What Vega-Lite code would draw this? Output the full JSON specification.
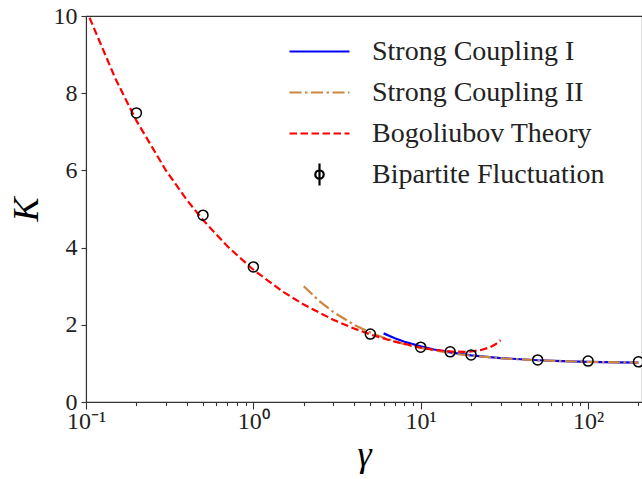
{
  "$schema": "https://vega.github.io/schema/vega-lite/v6.json",
  "autosize": "none",
  "width": 556,
  "height": 386,
  "padding": {"left": 86, "top": 16, "right": 0, "bottom": 77},
  "background": "white",
  "config": {
    "font": "Liberation Serif",
    "view": {"stroke": "#333", "strokeWidth": 1.1},
    "axis": {"grid": false, "domainColor": "#333", "tickColor": "#333", "labelColor": "#222", "titleColor": "#000", "labelFont": "Liberation Serif", "titleFont": "Liberation Serif", "domainWidth": 1.1, "tickWidth": 1.1}
  },
  "data": {"values": [
    {"gamma": 6, "K": 1.7778, "series": "Strong Coupling I"},
    {"gamma": 7, "K": 1.6531, "series": "Strong Coupling I"},
    {"gamma": 8, "K": 1.5625, "series": "Strong Coupling I"},
    {"gamma": 10, "K": 1.44, "series": "Strong Coupling I"},
    {"gamma": 12, "K": 1.3611, "series": "Strong Coupling I"},
    {"gamma": 15, "K": 1.2844, "series": "Strong Coupling I"},
    {"gamma": 20, "K": 1.21, "series": "Strong Coupling I"},
    {"gamma": 30, "K": 1.1378, "series": "Strong Coupling I"},
    {"gamma": 50, "K": 1.0816, "series": "Strong Coupling I"},
    {"gamma": 70, "K": 1.058, "series": "Strong Coupling I"},
    {"gamma": 100, "K": 1.0404, "series": "Strong Coupling I"},
    {"gamma": 150, "K": 1.0268, "series": "Strong Coupling I"},
    {"gamma": 200, "K": 1.0201, "series": "Strong Coupling I"},
    {"gamma": 2, "K": 3.0, "series": "Strong Coupling II"},
    {"gamma": 2.5, "K": 2.6, "series": "Strong Coupling II"},
    {"gamma": 3, "K": 2.3333, "series": "Strong Coupling II"},
    {"gamma": 4, "K": 2.0, "series": "Strong Coupling II"},
    {"gamma": 5, "K": 1.8, "series": "Strong Coupling II"},
    {"gamma": 6, "K": 1.6667, "series": "Strong Coupling II"},
    {"gamma": 8, "K": 1.5, "series": "Strong Coupling II"},
    {"gamma": 10, "K": 1.4, "series": "Strong Coupling II"},
    {"gamma": 15, "K": 1.2667, "series": "Strong Coupling II"},
    {"gamma": 20, "K": 1.2, "series": "Strong Coupling II"},
    {"gamma": 30, "K": 1.1333, "series": "Strong Coupling II"},
    {"gamma": 50, "K": 1.08, "series": "Strong Coupling II"},
    {"gamma": 100, "K": 1.04, "series": "Strong Coupling II"},
    {"gamma": 200, "K": 1.02, "series": "Strong Coupling II"},
    {"gamma": 0.105, "K": 9.955, "series": "Bogoliubov Theory"},
    {"gamma": 0.15, "K": 8.374, "series": "Bogoliubov Theory"},
    {"gamma": 0.2, "K": 7.289, "series": "Bogoliubov Theory"},
    {"gamma": 0.3, "K": 6.003, "series": "Bogoliubov Theory"},
    {"gamma": 0.4, "K": 5.238, "series": "Bogoliubov Theory"},
    {"gamma": 0.5, "K": 4.716, "series": "Bogoliubov Theory"},
    {"gamma": 0.7, "K": 4.033, "series": "Bogoliubov Theory"},
    {"gamma": 1, "K": 3.426, "series": "Bogoliubov Theory"},
    {"gamma": 1.5, "K": 2.859, "series": "Bogoliubov Theory"},
    {"gamma": 2, "K": 2.5235, "series": "Bogoliubov Theory"},
    {"gamma": 3, "K": 2.1312, "series": "Bogoliubov Theory"},
    {"gamma": 4, "K": 1.9025, "series": "Bogoliubov Theory"},
    {"gamma": 5, "K": 1.7506, "series": "Bogoliubov Theory"},
    {"gamma": 7, "K": 1.5606, "series": "Bogoliubov Theory"},
    {"gamma": 10, "K": 1.4096, "series": "Bogoliubov Theory"},
    {"gamma": 12, "K": 1.3539, "series": "Bogoliubov Theory"},
    {"gamma": 15, "K": 1.3097, "series": "Bogoliubov Theory"},
    {"gamma": 18, "K": 1.2994, "series": "Bogoliubov Theory"},
    {"gamma": 20, "K": 1.3085, "series": "Bogoliubov Theory"},
    {"gamma": 23, "K": 1.3464, "series": "Bogoliubov Theory"},
    {"gamma": 26, "K": 1.4192, "series": "Bogoliubov Theory"},
    {"gamma": 28, "K": 1.4944, "series": "Bogoliubov Theory"},
    {"gamma": 30, "K": 1.6015, "series": "Bogoliubov Theory"},
    {"gamma": 0.2, "K": 7.49, "series": "Bipartite Fluctuation"},
    {"gamma": 0.5, "K": 4.84, "series": "Bipartite Fluctuation"},
    {"gamma": 1, "K": 3.5, "series": "Bipartite Fluctuation"},
    {"gamma": 5, "K": 1.76, "series": "Bipartite Fluctuation"},
    {"gamma": 10, "K": 1.42, "series": "Bipartite Fluctuation"},
    {"gamma": 15, "K": 1.3, "series": "Bipartite Fluctuation"},
    {"gamma": 20, "K": 1.22, "series": "Bipartite Fluctuation"},
    {"gamma": 50, "K": 1.09, "series": "Bipartite Fluctuation"},
    {"gamma": 100, "K": 1.06, "series": "Bipartite Fluctuation"},
    {"gamma": 200, "K": 1.04, "series": "Bipartite Fluctuation"}
  ]},
  "encoding": {
    "x": {"field": "gamma", "type": "quantitative", "scale": {"type": "log", "domain": [0.1, 210], "nice": false, "zero": false},
      "axis": {"values": [0.1, 0.2, 0.3, 0.4, 0.5, 0.6, 0.7, 0.8, 0.9, 1, 2, 3, 4, 5, 6, 7, 8, 9, 10, 20, 30, 40, 50, 60, 70, 80, 90, 100, 200],
        "tickSize": {"condition": {"test": "datum.value === 0.1 || datum.value === 1 || datum.value === 10 || datum.value === 100", "value": 7}, "value": 3.5},
        "labelFontSize": 24, "labelPadding": 0,
        "labelExpr": "datum.value === 0.1 ? '10⁻¹' : datum.value === 1 ? '10⁰' : datum.value === 10 ? '10¹' : datum.value === 100 ? '10²' : ''",
        "labelOverlap": false, "labelFlush": false,
        "title": "γ", "titleFontSize": 36, "titleFontStyle": "italic", "titleFontWeight": "normal", "titlePadding": 4}},
    "y": {"field": "K", "type": "quantitative", "scale": {"domain": [0, 10], "nice": false}, "axis": {"values": [0, 2, 4, 6, 8, 10], "tickSize": 5, "labelFontSize": 24, "labelPadding": 4, "title": "K", "titleFontSize": 36, "titleFontStyle": "italic", "titleFontWeight": "normal", "titlePadding": 8}},
    "color": {"field": "series", "type": "nominal", "scale": {"domain": ["Strong Coupling I", "Strong Coupling II", "Bogoliubov Theory", "Bipartite Fluctuation"], "range": ["#0000ff", "#cd853f", "#ff0000", "#000000"]},
      "legend": {"title": null, "orient": "none", "legendX": 202, "legendY": 15, "symbolSize": 3600, "symbolStrokeWidth": 2.2, "labelFontSize": 28, "labelFont": "Liberation Serif", "labelColor": "#222", "labelLimit": 400, "labelOffset": 21, "rowPadding": 0, "clipHeight": 41, "padding": 0,
        "encode": {"symbols": {"update": {
          "shape": {"signal": "datum.value === 'Bipartite Fluctuation' ? 'M0,-1.1V1.1M0.42,0A0.42,0.42 0 1,1 -0.42,0A0.42,0.42 0 1,1 0.42,0' : 'stroke'"},
          "size": {"signal": "datum.value === 'Bipartite Fluctuation' ? 400 : 3600"},
          "strokeDash": {"signal": "datum.value === 'Strong Coupling II' ? [12, 3.5, 2.5, 3.5] : datum.value === 'Bogoliubov Theory' ? [7.5, 3.5] : []"},
          "stroke": {"scale": "color", "field": "value"},
          "fill": {"value": "transparent"},
          "strokeWidth": {"value": 2.2},
          "opacity": {"value": 1}
        }}}}}
  },
  "layer": [
    {"transform": [{"filter": "datum.series === 'Strong Coupling I'"}], "mark": {"type": "line", "strokeWidth": 2.2, "clip": true}, "encoding": {}},
    {"transform": [{"filter": "datum.series === 'Strong Coupling II'"}], "mark": {"type": "line", "strokeWidth": 2.2, "strokeDash": [12, 3.5, 2.5, 3.5], "clip": true}, "encoding": {}},
    {"transform": [{"filter": "datum.series === 'Bogoliubov Theory'"}], "mark": {"type": "line", "strokeWidth": 2.2, "strokeDash": [7.5, 3.5], "clip": true}, "encoding": {}},
    {"transform": [{"filter": "datum.series === 'Bipartite Fluctuation'"}], "mark": {"type": "point", "filled": false, "size": 100, "strokeWidth": 1.5, "opacity": 1, "clip": false}, "encoding": {}}
  ]
}
